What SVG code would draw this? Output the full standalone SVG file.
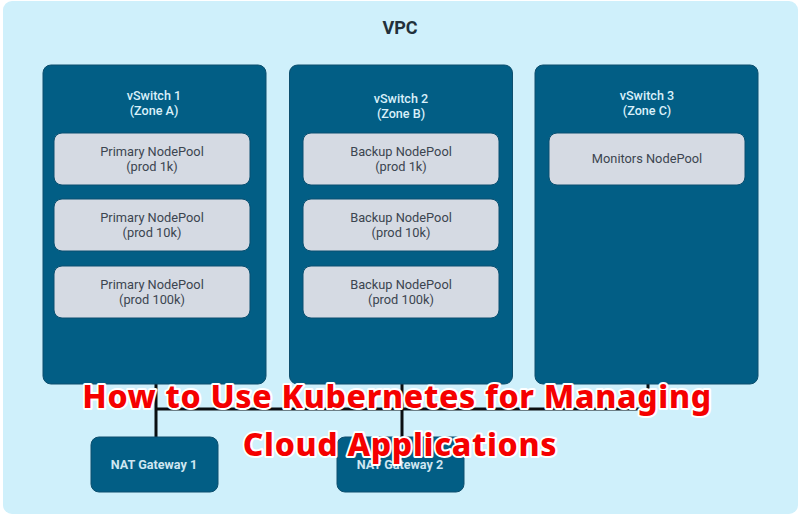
<svg xmlns="http://www.w3.org/2000/svg" width="800" height="515" viewBox="0 0 800 515">
<style>
text{font-family:Roboto,"Liberation Sans",sans-serif;text-anchor:middle}
.sw{fill:#025e85;stroke:#0d4f6e;stroke-width:1}
.pool{fill:#d5dae3;stroke:#0a4f70;stroke-width:1}
.gw{fill:#025e85;stroke:#0d4f6e;stroke-width:1}
.t1{font-size:12.600px;font-weight:500;fill:#d9f0fa}
.t2{font-size:12.800px;fill:#3c4550}
.t3{font-size:12.600px;font-weight:700;fill:#cfe6f1}
.line{stroke:#0a0f12;stroke-width:3;fill:none}
.title{font-family:"Noto Sans",sans-serif;font-size:32px;font-weight:800;fill:#f50000;stroke:#fff;stroke-width:4px;paint-order:stroke;stroke-linejoin:round;letter-spacing:0.700px}
</style>
<rect width="800" height="515" fill="#fff"/>
<g id="vpc"><rect x="3" y="1" width="795" height="513" rx="9" fill="#cff0fb"/><text x="400" y="34" font-size="18" font-weight="700" fill="#22303a">VPC</text></g>
<g id="connectors">
<path class="line" d="M156 384V437M402 384V437M156 409H646M648 384V409"/>
</g>
<g id="vswitch1"><rect class="sw" x="43" y="65" width="223" height="319" rx="8"/><text class="t1" x="154" y="100">vSwitch 1</text><text class="t1" x="154" y="115">(Zone A)</text></g>
<g id="vswitch2"><rect class="sw" x="289.500" y="65" width="223" height="319" rx="8"/><text class="t1" x="401" y="103">vSwitch 2</text><text class="t1" x="401" y="118">(Zone B)</text></g>
<g id="vswitch3"><rect class="sw" x="535" y="65" width="223" height="319" rx="8"/><text class="t1" x="647" y="100">vSwitch 3</text><text class="t1" x="647" y="115">(Zone C)</text></g>
<g id="pool-a1"><rect class="pool" x="54" y="133" width="196" height="52" rx="8"/><text class="t2" x="152" y="156">Primary NodePool</text><text class="t2" x="152" y="171">(prod 1k)</text></g>
<g id="pool-a2"><rect class="pool" x="54" y="199" width="196" height="52" rx="8"/><text class="t2" x="152" y="222">Primary NodePool</text><text class="t2" x="152" y="237">(prod 10k)</text></g>
<g id="pool-a3"><rect class="pool" x="54" y="266" width="196" height="52" rx="8"/><text class="t2" x="152" y="289">Primary NodePool</text><text class="t2" x="152" y="304">(prod 100k)</text></g>
<g id="pool-b1"><rect class="pool" x="303" y="133" width="196" height="52" rx="8"/><text class="t2" x="401" y="156">Backup NodePool</text><text class="t2" x="401" y="171">(prod 1k)</text></g>
<g id="pool-b2"><rect class="pool" x="303" y="199" width="196" height="52" rx="8"/><text class="t2" x="401" y="222">Backup NodePool</text><text class="t2" x="401" y="237">(prod 10k)</text></g>
<g id="pool-b3"><rect class="pool" x="303" y="266" width="196" height="52" rx="8"/><text class="t2" x="401" y="289">Backup NodePool</text><text class="t2" x="401" y="304">(prod 100k)</text></g>
<g id="pool-c1"><rect class="pool" x="549" y="133" width="196" height="52" rx="8"/><text class="t2" x="647" y="163">Monitors NodePool</text></g>
<g id="nat1"><rect class="gw" x="91" y="437" width="127" height="55" rx="8"/><text class="t3" x="154" y="469">NAT Gateway 1</text></g>
<g id="nat2"><rect class="gw" x="337" y="437" width="127" height="55" rx="8"/><text class="t3" x="400" y="469">NAT Gateway 2</text></g>
<g id="title"><text class="title" x="397" y="408">How to Use Kubernetes for Managing</text><text class="title" x="400" y="456">Cloud Applications</text></g>
</svg>
